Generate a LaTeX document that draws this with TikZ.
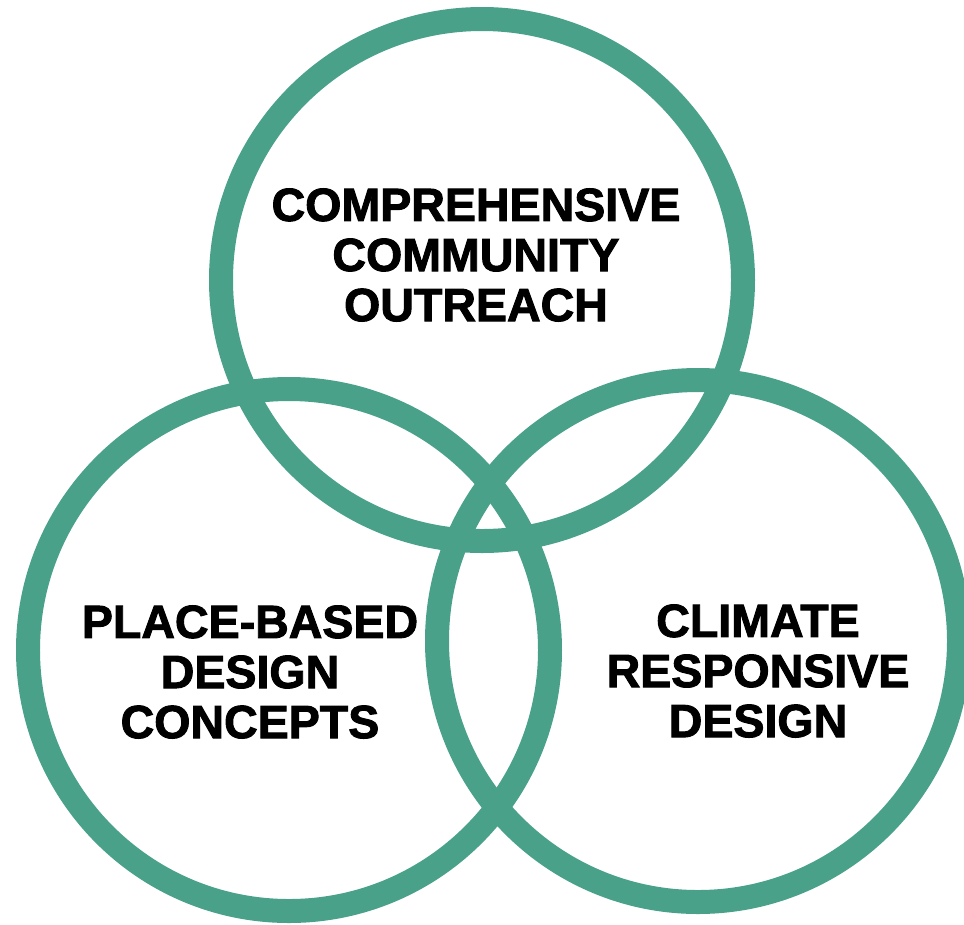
\documentclass[tikz,border=0pt]{standalone}
\usepackage{fontspec}
\setmainfont{Liberation Sans}[BoldFeatures={FakeBold=2}]
\definecolor{ringgreen}{RGB}{72,161,136}

\begin{document}
\begin{tikzpicture}[x=0.02cm,y=-0.02cm]

    \tikzset{
      ring/.style={
        draw=ringgreen,
        line width=0.48cm,
      },
      label/.style={
        align=center,
        inner sep=0pt,
        font=\fontsize{26.5}{28.5}\selectfont\bfseries,
      },
    }
    \useasboundingbox (0,0) rectangle (964,924);
    \clip (0,0) rectangle (964,924);

	\draw[ring] (482,280) circle (261);
	\draw[ring] (289,650) circle (261);
	\draw[ring] (698,641) circle (261);

	\node[label] (outreach) at (476,255) {COMPREHENSIVE\\COMMUNITY\\OUTREACH};
	\node[label] (place) at (250,672) {PLACE-BASED\\DESIGN\\CONCEPTS};
	\node[label] (climate) at (758,671) {CLIMATE\\RESPONSIVE\\DESIGN};

\end{tikzpicture}
\end{document}
